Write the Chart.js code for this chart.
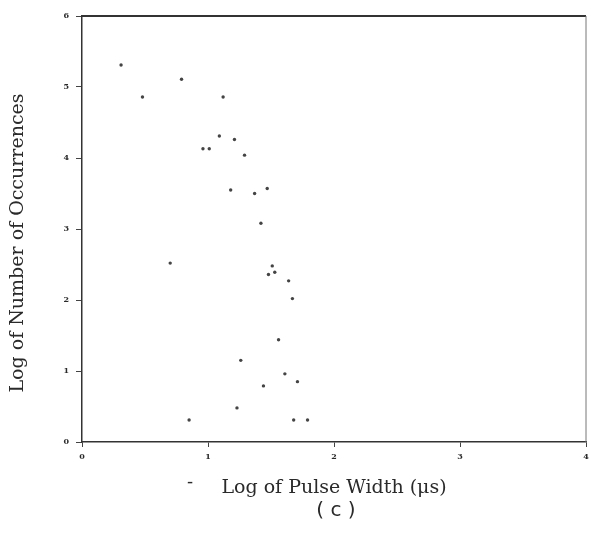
<!DOCTYPE html>
<html>
<head>
<meta charset="utf-8">
<script src="https://cdn.jsdelivr.net/npm/chart.js@4/dist/chart.umd.min.js"></script>
<style>
  html, body { margin: 0; padding: 0; background: #fff; }
  #wrap { width: 590px; height: 534px; position: relative; }
</style>
</head>
<body>
<div id="wrap"><canvas id="myChart"></canvas></div>
<script>
// log of pulse width (us) and log of number of occurrences
const pulseWidthLog = [
  0.31, 0.48, 0.79, 1.12, 1.09, 1.21, 0.96, 1.01, 1.29, 1.18,
  1.37, 1.47, 1.42, 0.70, 1.51, 1.48, 1.53, 1.64, 1.67, 1.56,
  1.26, 1.61, 1.71, 1.44, 1.23, 0.85, 1.68, 1.79,
];
const occurrencesLog = [
  5.31, 4.86, 5.11, 4.86, 4.31, 4.26, 4.13, 4.13, 4.04, 3.55,
  3.50, 3.57, 3.08, 2.52, 2.48, 2.36, 2.39, 2.27, 2.02, 1.44,
  1.15, 0.96, 0.85, 0.79, 0.48, 0.31, 0.31, 0.31,
];
const xTicks = [0, 1, 2, 3, 4];
const yTicks = [0, 1, 2, 3, 4, 5, 6];

const X_TITLE = 'Log of Pulse Width (\u03bcs)';
const Y_TITLE = 'Log of Number of Occurrences';
const CAPTION = '( c )';

const INK = '#2a2a2a';
const SERIF = '"DejaVu Serif", "Liberation Serif", serif';
const CHART_TOP = 16;
const CHART_LEFT = 82;
const CHART_BOTTOM_SPACE = 92;

const points = pulseWidthLog.map((x, i) => ({x: x, y: occurrencesLog[i]}));

/**
 * Draws the frame, the rotated y title and the caption under the chart.
 */
const extrasPlugin = {
  id: 'extras',
  afterDraw(chart) {
    const c = chart.ctx;
    const area = chart.chartArea;
    c.save();
    // top and right sides of the box
    c.strokeStyle = '#333';
    c.lineWidth = 2;
    c.beginPath();
    c.moveTo(area.left, area.top);
    c.lineTo(area.right, area.top);
    c.stroke();
    c.strokeStyle = '#777';
    c.lineWidth = 1;
    c.beginPath();
    c.moveTo(area.right, area.top);
    c.lineTo(area.right, area.bottom);
    c.stroke();

    c.fillStyle = INK;
    c.font = '19px ' + SERIF;
    c.textAlign = 'center';
    c.textBaseline = 'middle';
    c.translate(18, 243);
    c.rotate(-Math.PI / 2);
    c.fillText(Y_TITLE, 0, 0);
    c.restore();

    c.save();
    c.fillStyle = INK;
    c.font = '18px ' + SERIF;
    c.textAlign = 'center';
    c.textBaseline = 'middle';
    c.fillText('-', 190, 483);
    c.font = '20px "DejaVu Sans", sans-serif';
    c.fillText(CAPTION, 336, 511);
    c.restore();
  },
};

new Chart(document.getElementById('myChart'), {
  type: 'scatter',
  data: {
    datasets: [{
      data: points,
      backgroundColor: '#444',
      borderColor: '#444',
      pointRadius: 1.7,
      pointBorderWidth: 0,
    }],
  },
  options: {
    responsive: true,
    maintainAspectRatio: false,
    animation: false,
    layout: {padding: {top: CHART_TOP, right: 0, left: 0, bottom: 0}},
    plugins: {
      legend: {display: false},
      tooltip: {enabled: false},
    },
    scales: {
      x: {
        type: 'linear',
        min: 0,
        max: 4,
        afterBuildTicks: (scale) => {
          scale.ticks = xTicks.map((v) => ({value: v}));
        },
        afterFit: (scale) => {
          scale.height = CHART_BOTTOM_SPACE;
          scale.paddingLeft = 0;
          scale.paddingRight = 0;
        },
        grid: {
          drawOnChartArea: false,
          drawTicks: true,
          tickLength: 5,
          color: '#444',
        },
        border: {color: '#333', width: 1.5},
        ticks: {
          color: INK,
          padding: 5,
          maxRotation: 0,
          font: {family: SERIF, size: 8, weight: 'bold'},
        },
        title: {
          display: true,
          text: X_TITLE,
          color: INK,
          font: {family: SERIF, size: 19},
          padding: {top: 0, bottom: 35},
        },
      },
      y: {
        type: 'linear',
        min: 0,
        max: 6,
        afterBuildTicks: (scale) => {
          scale.ticks = yTicks.map((v) => ({value: v}));
        },
        afterFit: (scale) => {
          scale.width = CHART_LEFT;
        },
        grid: {
          drawOnChartArea: false,
          drawTicks: true,
          tickLength: 6,
          color: '#444',
        },
        border: {color: '#333', width: 1.5},
        ticks: {
          color: INK,
          padding: 7,
          font: {family: SERIF, size: 8, weight: 'bold'},
        },
      },
    },
  },
  plugins: [extrasPlugin],
});
</script>
</body>
</html>
